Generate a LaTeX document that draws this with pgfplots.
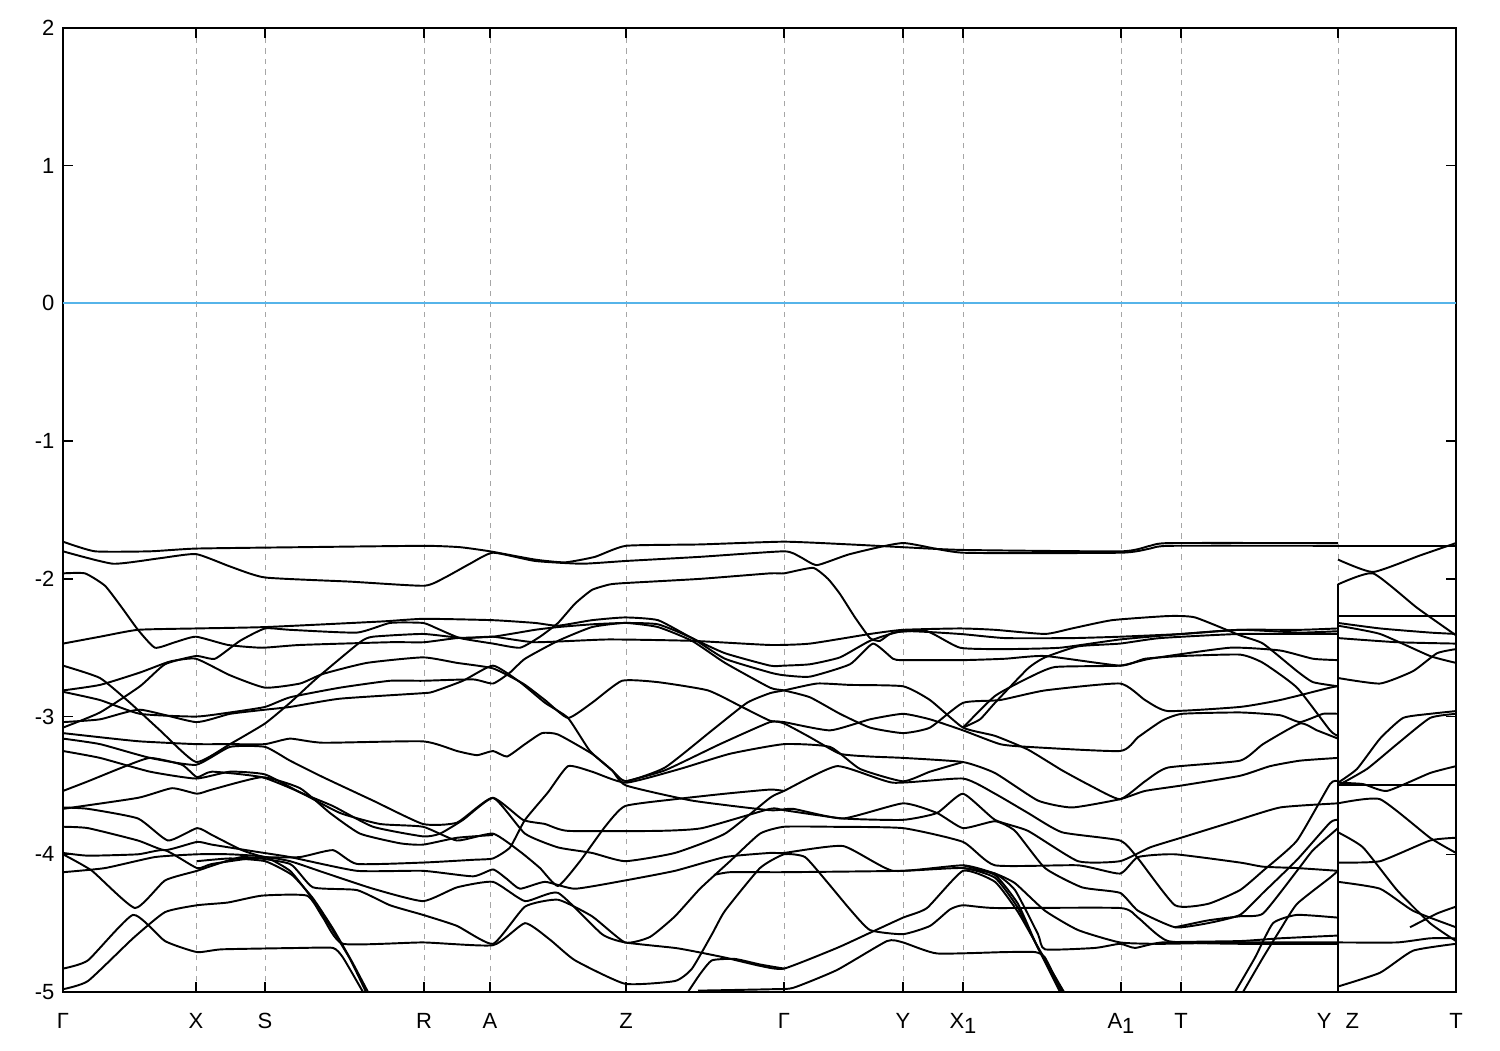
\documentclass[border=0pt]{standalone}
\usepackage{pgfplots}
\pgfplotsset{compat=1.18}
\usepackage{fontspec}
\setmainfont{Liberation Sans}
\definecolor{zeroblue}{RGB}{86,180,233}
\begin{document}
\begin{tikzpicture}
\path[use as bounding box] (-1.26,-1.16) rectangle (28.74,19.84);
\begin{axis}[
 at={(0,0)}, anchor=south west,
 scale only axis, width=27.86cm, height=19.28cm,
 xmin=63, xmax=1456, ymin=-5, ymax=2,
 axis line style={line width=1pt},
 tick align=inside, tick pos=both,
 major tick length=0.2cm,
 tick style={line width=0.8pt, black},
 ytick={-5,-4,-3,-2,-1,0,1,2},
 yticklabels={-5,-4,-3,-2,-1,0,1,2},
 xtick={63,196,265,424,490,626,784,903,963,1121,1181,1338,1456},
 xticklabels={{Γ},{X},{S},{R},{A},{Z},{Γ},{Y},{X\raisebox{-0.45ex}{1}},{A\raisebox{-0.45ex}{1}},{T},{Y\hspace{0.28cm}Z},{T}},
 xmajorgrids, grid style={color=gray!70, dash pattern=on 3pt off 3pt, line width=0.5pt},
 tick label style={font=\fontsize{12.5}{15}\selectfont},
 yticklabel style={xshift=-0.05cm},
 xticklabel style={yshift=-0.3cm},
 no markers,
 cycle list={{black}},
 every axis plot post/.append style={solid, line width=1.1pt, smooth, tension=0.3, mark=none},
]
\addplot[zeroblue] coordinates {(63,0)(1456,0)};
\addplot coordinates {(1338,-2.04)(1338,-5)};
% C01
\addplot coordinates {(63,-1.73)(95,-1.80)(150,-1.80)(196,-1.78)(300,-1.77)(424,-1.76)(460,-1.77)(490,-1.80)(535,-1.86)(565,-1.88)(595,-1.84)(626,-1.76)(700,-1.75)(784,-1.73)(850,-1.75)(903,-1.77)(963,-1.79)(1121,-1.80)(1150,-1.76)(1170,-1.74)(1338,-1.74)};
% C02
\addplot coordinates {(63,-1.80)(113,-1.89)(160,-1.85)(196,-1.82)(230,-1.91)(265,-1.99)(350,-2.02)(424,-2.05)(445,-1.99)(470,-1.89)(493,-1.81)(535,-1.87)(582,-1.89)(626,-1.87)(700,-1.84)(784,-1.80)(800,-1.84)(817,-1.90)(850,-1.82)(903,-1.74)(963,-1.81)(1121,-1.81)(1150,-1.78)(1170,-1.76)(1338,-1.76)};
% C03
\addplot coordinates {(63,-1.96)(85,-1.96)(105,-2.05)(122,-2.21)(138,-2.37)(155,-2.50)(175,-2.46)(196,-2.42)(228,-2.48)(262,-2.50)(300,-2.48)(390,-2.46)(424,-2.46)(457,-2.43)(493,-2.42)(535,-2.37)(558,-2.35)(592,-2.33)(625,-2.32)(658,-2.33)(692,-2.43)(725,-2.58)(770,-2.68)(784,-2.70)(810,-2.71)(850,-2.62)(873,-2.47)(893,-2.58)(903,-2.59)(963,-2.59)(1005,-2.58)(1045,-2.56)(1120,-2.63)(1145,-2.58)(1182,-2.56)(1240,-2.55)(1263,-2.61)(1297,-2.79)(1330,-3.10)(1338,-3.14)};
% C04
\addplot coordinates {(63,-2.47)(100,-2.42)(138,-2.37)(196,-2.36)(265,-2.35)(380,-2.31)(424,-2.29)(493,-2.30)(535,-2.32)(558,-2.34)(592,-2.30)(625,-2.28)(658,-2.30)(692,-2.43)(725,-2.54)(770,-2.63)(784,-2.63)(810,-2.62)(840,-2.57)(870,-2.45)(903,-2.38)(960,-2.40)(1005,-2.43)(1072,-2.43)(1120,-2.42)(1182,-2.40)(1240,-2.37)(1300,-2.37)(1338,-2.36)};
% C05
\addplot coordinates {(63,-3.08)(100,-2.97)(140,-2.78)(165,-2.62)(196,-2.56)(215,-2.58)(240,-2.45)(265,-2.36)(290,-2.37)(357,-2.39)(390,-2.32)(423,-2.32)(437,-2.36)(460,-2.43)(493,-2.47)(520,-2.50)(540,-2.42)(558,-2.32)(575,-2.18)(592,-2.08)(610,-2.04)(626,-2.03)(700,-2.00)(770,-1.96)(784,-1.96)(813,-1.92)(828,-2.00)(840,-2.11)(855,-2.28)(870,-2.43)(880,-2.45)(893,-2.39)(927,-2.38)(960,-2.50)(1005,-2.51)(1060,-2.50)(1120,-2.44)(1182,-2.40)(1240,-2.37)(1300,-2.39)(1338,-2.38)};
% C06
\addplot coordinates {(63,-2.63)(100,-2.72)(130,-2.90)(160,-3.10)(196,-3.33)(230,-3.20)(265,-3.05)(290,-2.90)(317,-2.72)(360,-2.46)(373,-2.42)(423,-2.40)(463,-2.43)(493,-2.42)(535,-2.46)(608,-2.44)(692,-2.45)(770,-2.48)(810,-2.47)(870,-2.40)(903,-2.37)(960,-2.36)(995,-2.37)(1045,-2.40)(1072,-2.36)(1112,-2.30)(1168,-2.27)(1195,-2.28)(1240,-2.41)(1263,-2.47)(1297,-2.67)(1313,-2.75)(1338,-2.78)};
% C07
\addplot coordinates {(63,-2.81)(100,-2.77)(140,-2.68)(170,-2.60)(196,-2.58)(230,-2.70)(265,-2.79)(300,-2.76)(323,-2.69)(367,-2.61)(423,-2.57)(457,-2.61)(493,-2.65)(523,-2.76)(545,-2.88)(568,-3.01)(592,-2.90)(622,-2.74)(658,-2.75)(708,-2.81)(742,-2.93)(770,-3.03)(784,-3.04)(830,-3.10)(870,-3.02)(903,-2.98)(930,-3.02)(963,-3.10)(1000,-3.20)(1028,-3.22)(1120,-3.25)(1138,-3.15)(1162,-3.03)(1182,-2.98)(1240,-2.97)(1280,-2.99)(1300,-3.04)(1323,-2.98)(1338,-2.98)};
% C08
\addplot coordinates {(63,-2.82)(100,-2.88)(140,-2.98)(196,-3.00)(230,-2.97)(265,-2.93)(290,-2.86)(340,-2.79)(390,-2.74)(423,-2.74)(473,-2.73)(493,-2.76)(510,-2.68)(525,-2.58)(558,-2.45)(592,-2.35)(625,-2.32)(658,-2.35)(692,-2.45)(725,-2.61)(770,-2.79)(784,-2.81)(810,-2.86)(840,-2.98)(870,-3.08)(903,-3.12)(930,-3.08)(963,-2.90)(1000,-2.88)(1045,-2.81)(1120,-2.76)(1145,-2.88)(1168,-2.96)(1240,-2.93)(1280,-2.88)(1330,-2.79)(1338,-2.78)};
% C09
\addplot coordinates {(63,-3.04)(100,-3.02)(140,-2.95)(196,-3.04)(230,-2.98)(265,-2.95)(290,-2.93)(340,-2.87)(423,-2.83)(433,-2.82)(463,-2.74)(493,-2.63)(520,-2.75)(545,-2.90)(568,-3.01)(590,-3.25)(612,-3.39)(626,-3.47)(665,-3.37)(712,-3.10)(747,-2.90)(770,-2.83)(784,-2.81)(817,-2.76)(850,-2.77)(903,-2.78)(930,-2.88)(963,-3.08)(995,-3.14)(1028,-3.24)(1062,-3.39)(1090,-3.50)(1120,-3.60)(1145,-3.47)(1168,-3.37)(1240,-3.32)(1263,-3.20)(1300,-3.05)(1317,-3.10)(1338,-3.16)};
% C10
\addplot coordinates {(63,-3.12)(100,-3.15)(140,-3.18)(196,-3.20)(230,-3.20)(265,-3.20)(290,-3.16)(323,-3.19)(423,-3.18)(457,-3.25)(477,-3.28)(493,-3.25)(507,-3.29)(525,-3.20)(542,-3.12)(558,-3.13)(592,-3.27)(612,-3.39)(626,-3.50)(692,-3.61)(770,-3.68)(793,-3.67)(843,-3.74)(903,-3.63)(937,-3.70)(963,-3.81)(995,-3.76)(1015,-3.83)(1045,-4.10)(1082,-4.24)(1120,-4.28)(1138,-4.41)(1175,-4.53)(1208,-4.50)(1240,-4.44)(1263,-4.28)(1297,-4.04)(1330,-3.77)(1338,-3.75)};
% C11
\addplot coordinates {(63,-3.16)(100,-3.20)(150,-3.30)(196,-3.35)(230,-3.22)(265,-3.22)(290,-3.32)(323,-3.44)(373,-3.61)(423,-3.78)(457,-3.77)(493,-3.59)(525,-3.85)(558,-3.95)(592,-3.99)(625,-4.05)(675,-3.99)(725,-3.85)(770,-3.59)(784,-3.54)(837,-3.36)(893,-3.48)(963,-3.45)(995,-3.56)(1028,-3.70)(1062,-3.84)(1120,-3.90)(1138,-4.03)(1175,-4.37)(1208,-4.36)(1240,-4.26)(1263,-4.12)(1297,-3.90)(1330,-3.49)(1338,-3.47)};
% C12
\addplot coordinates {(63,-3.25)(100,-3.30)(150,-3.40)(196,-3.45)(230,-3.40)(265,-3.42)(300,-3.55)(333,-3.65)(373,-3.80)(423,-3.87)(440,-3.85)(463,-3.75)(493,-3.59)(523,-3.75)(545,-3.78)(568,-3.83)(658,-3.83)(702,-3.81)(770,-3.67)(784,-3.68)(843,-3.74)(903,-3.75)(937,-3.70)(963,-3.56)(995,-3.75)(1028,-3.83)(1078,-4.05)(1120,-4.05)(1150,-3.95)(1181,-3.88)(1230,-3.77)(1280,-3.66)(1338,-3.63)};
% C13
\addplot coordinates {(63,-3.54)(88,-3.47)(122,-3.37)(150,-3.30)(182,-3.35)(197,-3.44)(212,-3.40)(262,-3.44)(300,-3.55)(340,-3.70)(380,-3.78)(423,-3.80)(457,-3.90)(493,-3.85)(520,-3.98)(540,-4.10)(558,-4.23)(580,-4.05)(605,-3.80)(625,-3.65)(675,-3.60)(725,-3.56)(770,-3.53)(784,-3.54)};
% C16
\addplot coordinates {(63,-3.66)(88,-3.67)(138,-3.74)(168,-3.90)(197,-3.81)(212,-3.86)(242,-3.97)(265,-4.02)(300,-4.02)(333,-3.97)(357,-4.07)(423,-4.06)(473,-4.04)(493,-4.03)(510,-3.95)(525,-3.75)(548,-3.55)(568,-3.36)(592,-3.40)(626,-3.48)(680,-3.38)(730,-3.27)(784,-3.20)(830,-3.22)(860,-3.38)(903,-3.47)(930,-3.40)(963,-3.33)};
% C17
\addplot coordinates {(63,-3.80)(88,-3.81)(138,-3.90)(165,-3.97)(197,-3.91)(212,-3.93)(255,-3.98)(290,-4.02)(357,-4.12)(423,-4.12)(473,-4.16)(493,-4.11)(507,-4.18)(520,-4.25)(545,-4.20)(575,-4.25)(625,-4.19)(675,-4.12)(725,-4.02)(770,-3.99)(784,-3.99)(843,-3.94)(893,-4.12)(963,-4.08)(995,-4.14)(1015,-4.21)(1045,-4.41)(1078,-4.55)(1120,-4.64)(1162,-4.65)(1240,-4.64)(1338,-4.64)};
% C18
\addplot coordinates {(63,-3.99)(88,-4.01)(138,-4.00)(165,-3.97)(197,-4.10)(212,-4.07)(262,-4.02)(290,-4.05)(323,-4.13)(373,-4.25)(423,-4.34)(457,-4.24)(493,-4.20)(525,-4.34)(558,-4.28)(602,-4.58)(625,-4.64)(675,-4.68)(698,-4.71)(725,-4.75)(760,-4.81)(784,-4.83)(837,-4.68)(870,-4.57)(903,-4.46)(927,-4.39)(963,-4.12)(995,-4.20)(1018,-4.42)(1040,-4.70)(1064,-5.00)};
% C19
\addplot coordinates {(63,-4.00)(92,-4.12)(135,-4.39)(165,-4.19)(197,-4.12)(242,-4.02)(290,-4.07)(313,-4.24)(357,-4.26)(390,-4.37)(423,-4.44)(457,-4.52)(493,-4.65)(525,-4.38)(558,-4.33)(592,-4.45)(625,-4.64)(650,-4.60)(675,-4.45)(700,-4.25)(730,-4.05)(760,-3.85)(784,-3.80)(830,-3.80)(903,-3.81)(963,-3.91)(995,-4.08)(1078,-4.08)(1120,-4.14)(1138,-4.02)(1175,-4.00)(1240,-4.06)(1263,-4.09)(1297,-4.10)(1338,-4.12)};
% C20, C21 steep
\addplot coordinates {(63,-4.13)(105,-4.10)(155,-4.02)(197,-4.00)(230,-4.00)(265,-4.02)(290,-4.12)(310,-4.30)(330,-4.52)(350,-4.76)(366,-5.00)};
\addplot coordinates {(197,-4.05)(230,-4.03)(265,-4.05)(292,-4.15)(313,-4.32)(333,-4.54)(352,-4.78)(368,-5.00)};
% C22
\addplot coordinates {(63,-4.83)(88,-4.77)(133,-4.44)(165,-4.63)(197,-4.71)(222,-4.69)(300,-4.68)(333,-4.68)(343,-4.75)(363,-5.00)};
% C23
\addplot coordinates {(63,-4.98)(88,-4.92)(133,-4.61)(165,-4.42)(197,-4.37)(228,-4.35)(262,-4.30)(307,-4.30)(323,-4.46)(343,-4.65)(423,-4.64)(493,-4.66)(525,-4.50)(550,-4.62)(575,-4.77)(625,-4.94)(675,-4.92)(692,-4.83)(712,-4.58)(725,-4.41)(760,-4.10)(784,-4.00)(805,-4.02)(827,-4.20)(850,-4.40)(870,-4.55)(903,-4.58)(930,-4.52)(950,-4.40)(963,-4.37)(995,-4.39)(1120,-4.39)(1138,-4.46)(1168,-4.63)(1240,-4.65)(1338,-4.65)};
% C24
\addplot coordinates {(714,-4.15)(730,-4.13)(784,-4.13)(903,-4.12)(963,-4.10)(995,-4.17)(1018,-4.39)(1038,-4.68)(1062,-5.00)};
% C25
\addplot coordinates {(963,-4.08)(995,-4.15)(1018,-4.36)(1036,-4.65)(1060,-5.00)};
% C26
\addplot coordinates {(963,-4.10)(995,-4.14)(1015,-4.26)(1038,-4.58)(1045,-4.69)(1095,-4.68)(1120,-4.65)(1135,-4.68)(1162,-4.64)(1240,-4.63)(1280,-4.61)(1338,-4.59)};
% C27
\addplot coordinates {(688,-5.00)(700,-4.87)(712,-4.77)(735,-4.76)(760,-4.80)(784,-4.83)};
% C28
\addplot coordinates {(698,-4.99)(770,-4.98)(793,-4.97)(837,-4.84)(887,-4.63)(903,-4.64)(937,-4.72)(1005,-4.71)(1035,-4.71)(1045,-4.75)(1062,-5.00)};
% C29
\addplot coordinates {(626,-3.47)(665,-3.39)(720,-3.20)(770,-3.04)(784,-3.05)(810,-3.15)(840,-3.27)(870,-3.29)(903,-3.30)(963,-3.33)(995,-3.41)(1038,-3.61)(1072,-3.66)(1120,-3.60)(1145,-3.54)(1182,-3.50)(1240,-3.43)(1270,-3.36)(1300,-3.32)(1338,-3.30)};
% C30, C31
\addplot coordinates {(963,-3.08)(980,-3.02)(995,-2.90)(1028,-2.65)(1045,-2.57)(1078,-2.49)(1120,-2.47)(1160,-2.43)(1240,-2.40)(1338,-2.40)};
\addplot coordinates {(963,-3.08)(995,-2.85)(1028,-2.72)(1055,-2.64)(1120,-2.63)(1150,-2.58)(1230,-2.50)(1280,-2.52)(1313,-2.58)(1338,-2.59)};
% C32-C34
\addplot coordinates {(1235,-5.00)(1255,-4.75)(1273,-4.50)(1297,-4.44)(1338,-4.46)};
\addplot coordinates {(1243,-5.00)(1263,-4.75)(1280,-4.55)(1297,-4.36)(1330,-4.17)(1338,-4.12)};
\addplot coordinates {(1175,-4.53)(1208,-4.48)(1240,-4.45)(1263,-4.43)(1297,-4.12)(1313,-3.97)(1338,-3.81)};
% C35 stub, C36
\addplot coordinates {(63,-2.00)(73,-2.00)};
\addplot coordinates {(63,-3.67)(138,-3.59)(172,-3.52)(197,-3.56)(212,-3.53)(262,-3.44)(300,-3.52)(330,-3.70)(360,-3.85)(400,-3.92)(423,-3.93)(457,-3.88)(493,-3.86)};
% right panel Z-T
\addplot coordinates {(1338,-1.76)(1456,-1.76)};
\addplot coordinates {(1338,-1.86)(1373,-1.95)(1420,-1.83)(1456,-1.74)};
\addplot coordinates {(1338,-2.04)(1373,-1.96)(1417,-2.21)(1456,-2.41)};
\addplot coordinates {(1338,-2.27)(1456,-2.27)};
\addplot coordinates {(1338,-2.32)(1380,-2.36)(1430,-2.39)(1456,-2.40)};
\addplot coordinates {(1338,-2.34)(1380,-2.40)(1430,-2.56)(1456,-2.61)};
\addplot coordinates {(1338,-2.43)(1397,-2.46)(1456,-2.47)};
\addplot coordinates {(1338,-2.72)(1380,-2.76)(1413,-2.67)(1437,-2.54)(1456,-2.51)};
\addplot coordinates {(1338,-3.48)(1357,-3.38)(1380,-3.16)(1403,-3.01)(1430,-2.98)(1456,-2.96)};
\addplot coordinates {(1338,-3.50)(1367,-3.38)(1397,-3.20)(1430,-3.01)(1456,-2.98)};
\addplot coordinates {(1338,-3.48)(1363,-3.49)(1387,-3.54)(1430,-3.41)(1456,-3.36)};
\addplot coordinates {(1338,-3.50)(1456,-3.50)};
\addplot coordinates {(1338,-3.63)(1380,-3.60)(1430,-3.88)(1456,-3.99)};
\addplot coordinates {(1338,-4.06)(1380,-4.05)(1430,-3.90)(1456,-3.88)};
\addplot coordinates {(1338,-3.84)(1363,-3.95)(1397,-4.26)(1430,-4.50)(1456,-4.63)};
\addplot coordinates {(1338,-4.20)(1380,-4.25)(1413,-4.41)(1456,-4.53)};
\addplot coordinates {(1410,-4.53)(1437,-4.43)(1456,-4.38)};
\addplot coordinates {(1338,-4.64)(1397,-4.64)(1430,-4.61)(1456,-4.61)};
\addplot coordinates {(1338,-4.96)(1380,-4.86)(1413,-4.70)(1456,-4.65)};
\addplot coordinates {(1447,-2.00)(1456,-2.00)};
\end{axis}
\end{tikzpicture}
\end{document}
